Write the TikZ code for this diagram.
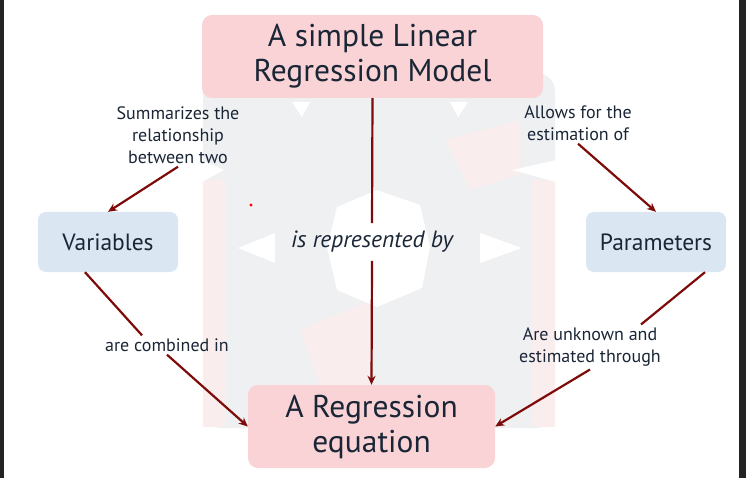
\documentclass[tikz,border=0pt]{standalone}
\usepackage{fontspec}
\setmainfont{PT Sans}
\usetikzlibrary{arrows.meta,positioning}

\definecolor{boxpink}{HTML}{F9D3D5}
\definecolor{boxblue}{HTML}{DAE6F2}
\definecolor{inkdark}{HTML}{1A2636}
\definecolor{linkred}{HTML}{7E0A0A}
\definecolor{markgrey}{HTML}{EEF0F2}
\definecolor{markpink}{HTML}{F9EDED}
\definecolor{edgedark}{HTML}{232323}

\begin{document}
\begin{tikzpicture}[
  x=1pt, y=-1pt,
  >=Stealth,
  every node/.style={text=inkdark},
  bigbox/.style={rectangle, rounded corners=10pt, fill=boxpink, align=center,
    font=\fontsize{31.5}{35}\selectfont},
  smallbox/.style={rectangle, rounded corners=8pt, fill=boxblue,
    minimum width=140pt, minimum height=60pt, font=\fontsize{23.5}{27}\selectfont},
  note/.style={align=center, inner sep=3pt, font=\fontsize{18}{22}\selectfont},
  link/.style={draw=linkred, line width=2.2pt},
  linkto/.style={link, -{Stealth[length=9pt,width=8pt]}},
]
\useasboundingbox (0,0) rectangle (746,478);

% screen edges
\fill[edgedark] (0,0) rectangle (4,478);
\fill[edgedark] (739,0) rectangle (746,478);

% faint watermark behind the diagram
\fill[markgrey, rounded corners=18pt] (203,73) rectangle (555,428);
\fill[markpink] (203,180) rectangle (226,427);
\fill[markpink] (532,180) rectangle (555,427);
\fill[markpink] (300,330) -- (372,300) -- (372,385) -- (320,385) -- cycle;
\fill[markpink] (445,140) -- (520,120) -- (520,175) -- (470,190) -- cycle;
\fill[white] (202,160) -- (224,170) -- (202,182) -- cycle;
\fill[white] (556,160) -- (512,170) -- (556,182) -- cycle;
\fill[white] (292,102) -- (310,102) -- (302,117) -- cycle;
\fill[white] (450,102) -- (468,102) -- (458,117) -- cycle;
\fill[white] (377,190) -- (420,205) -- (430,247) -- (422,288) -- (377,307)
  -- (337,290) -- (327,247) -- (337,207) -- cycle;
\fill[white] (238,248) -- (275,233) -- (275,263) -- cycle;
\fill[white] (522,248) -- (480,233) -- (480,263) -- cycle;
\fill[red] (251,205) circle (1.6pt);

% main boxes
\node[bigbox, minimum width=341pt, minimum height=83pt] at (372.5,56.5) (model)
  {A simple Linear\\Regression Model};
\node[bigbox, minimum width=247pt, minimum height=83pt] at (371.5,426.5) (equation)
  {A Regression\\equation};
\node[smallbox] at (108,242) (vars) {Variables};
\node[smallbox] at (656,242) (params) {Parameters};

% link labels
\node[inner xsep=4pt, inner ysep=8pt, font=\itshape\fontsize{23.5}{27}\selectfont]
  at (372,242) (repr) {is represented by};
\node[note] at (178,135) (summ) {Summarizes the\\relationship\\between two};
\node[note] at (578,123) (allow) {Allows for the\\estimation of};
\node[note] at (167,345) (comb) {are combined in};
\node[note] at (590,347) (unkn) {Are unknown and\\estimated through};

% connectors
\draw[link] (model.south) -- (repr.north);
\draw[linkto] (repr.south) -- (equation.north);
\draw[linkto] (summ.south) -- (vars.north);
\draw[linkto] (allow.south) -- (params.north);
\draw[link] ([xshift=-23pt]vars.south) -- ([xshift=-25pt]comb.north);
\draw[linkto] (comb.south) -- (equation.west);
\draw[link] ([xshift=49pt]params.south) -- ([xshift=51pt]unkn.north);
\draw[linkto] (unkn.south) -- (equation.east);

\end{tikzpicture}
\end{document}
